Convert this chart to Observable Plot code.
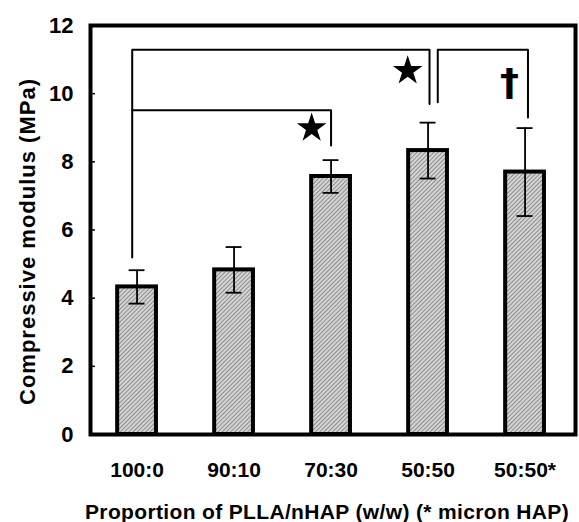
<!DOCTYPE html>
<html>
<head>
<meta charset="utf-8">
<script src="https://cdn.jsdelivr.net/npm/d3@7"></script>
<script src="https://cdn.jsdelivr.net/npm/@observablehq/plot@0.6"></script>
<style>
  html, body { margin: 0; padding: 0; background: #fff; }
  svg { display: block; }
</style>
</head>
<body>
<div id="chart"></div>
<script>
const categories = ["100:0", "90:10", "70:30", "50:50", "50:50*"];
const means = [4.33, 4.83, 7.57, 8.33, 7.70];
const errors = [0.49, 0.67, 0.48, 0.82, 1.29];
const yTicks = [0, 2, 4, 6, 8, 10, 12];
const yLabel = "Compressive modulus (MPa)";
const xLabel = "Proportion of PLLA/nHAP (w/w) (* micron HAP)";

// significance brackets: [category index (with small offset), value]
const bracketA = [[-0.05, 5.19], [-0.05, 11.29], [3.015, 11.29], [3.015, 9.70]];
const bracketB = [[-0.05, 9.51], [2.0, 9.51], [2.0, 8.48]];
const bracketC = [[3.1, 9.75], [3.1, 11.29], [4.03, 11.29], [4.03, 9.30]];
const stars = [[1.80, 8.99], [2.79, 10.67]];
const daggers = [[3.84, 10.31]];

const data = categories.map((c, i) => ({i, c, mean: means[i], err: errors[i]}));

const chart = Plot.plot({
  width: 579,
  height: 522,
  marginLeft: 90,
  marginRight: 4,
  marginTop: 25,
  marginBottom: 88,
  style: {fontFamily: "'Liberation Sans', Arial, sans-serif", fontWeight: "bold", color: "#000", background: "#fff"},
  x: {type: "linear", domain: [-0.48, 4.52]},
  y: {domain: [0, 12]},
  marks: [
    Plot.rectY(data, {x1: d => d.i - 0.2, x2: d => d.i + 0.2, y1: 0, y2: "mean", fill: "url(#hatch)", stroke: "#000", strokeWidth: 4}),
    Plot.ruleX(data, {x: "i", y1: d => d.mean - d.err, y2: d => d.mean + d.err, stroke: "#000", strokeWidth: 1.8}),
    Plot.ruleY(data, {y: d => d.mean + d.err, x1: d => d.i - 0.082, x2: d => d.i + 0.082, stroke: "#000", strokeWidth: 1.8}),
    Plot.ruleY(data, {y: d => d.mean - d.err, x1: d => d.i - 0.082, x2: d => d.i + 0.082, stroke: "#000", strokeWidth: 1.8}),
    Plot.line(bracketA, {x: d => d[0], y: d => d[1], stroke: "#000", strokeWidth: 2}),
    Plot.line(bracketB, {x: d => d[0], y: d => d[1], stroke: "#000", strokeWidth: 2}),
    Plot.line(bracketC, {x: d => d[0], y: d => d[1], stroke: "#000", strokeWidth: 2}),
    Plot.dot(stars, {x: d => d[0], y: d => d[1], symbol: "star", r: 9.3, fill: "#000", stroke: "none"}),
    Plot.text(daggers, {x: d => d[0], y: d => d[1], text: () => "\u2020", fontSize: 38, fontWeight: "bold", fontFamily: "'DejaVu Sans', sans-serif", fill: "#000"}),
    Plot.axisY({ticks: yTicks, tickSize: 0, tickPadding: 17, fontSize: 22, label: null}),
    Plot.axisY({ticks: yTicks, tickSize: -5, text: null, label: null, strokeWidth: 1.5}),
    Plot.axisX({ticks: categories.map((_, i) => i), tickFormat: i => categories[i], tickSize: 0, tickPadding: 28, fontSize: 21, label: null}),
    Plot.frame({stroke: "#000", strokeWidth: 4}),
    Plot.text([yLabel], {frameAnchor: "left", textAnchor: "middle", rotate: -90, dx: -63, dy: 11.5, fontSize: 22, fontWeight: "bold", fill: "#000", lineAnchor: "middle", style: "letter-spacing: 1px"}),
    Plot.text([xLabel], {frameAnchor: "bottom", textAnchor: "middle", dx: -6, dy: 78, fontSize: 21, fontWeight: "bold", fill: "#000", lineAnchor: "middle"})
  ]
});

chart.insertAdjacentHTML("afterbegin",
  `<defs><pattern id="hatch" patternUnits="userSpaceOnUse" width="3" height="3" patternTransform="rotate(45)">
     <rect width="3" height="3" fill="#d4d4d4"></rect>
     <line x1="0" y1="0" x2="0" y2="3" stroke="#707070" stroke-width="1.4"></line>
   </pattern></defs>`);

// letter spacing for the axis titles (as in the reference)
chart.querySelectorAll("text").forEach(t => {
  if (t.textContent === yLabel) t.setAttribute("letter-spacing", "1");
  if (t.textContent === xLabel) t.setAttribute("letter-spacing", "0.35");
});

document.getElementById("chart").appendChild(chart);
</script>
</body>
</html>
